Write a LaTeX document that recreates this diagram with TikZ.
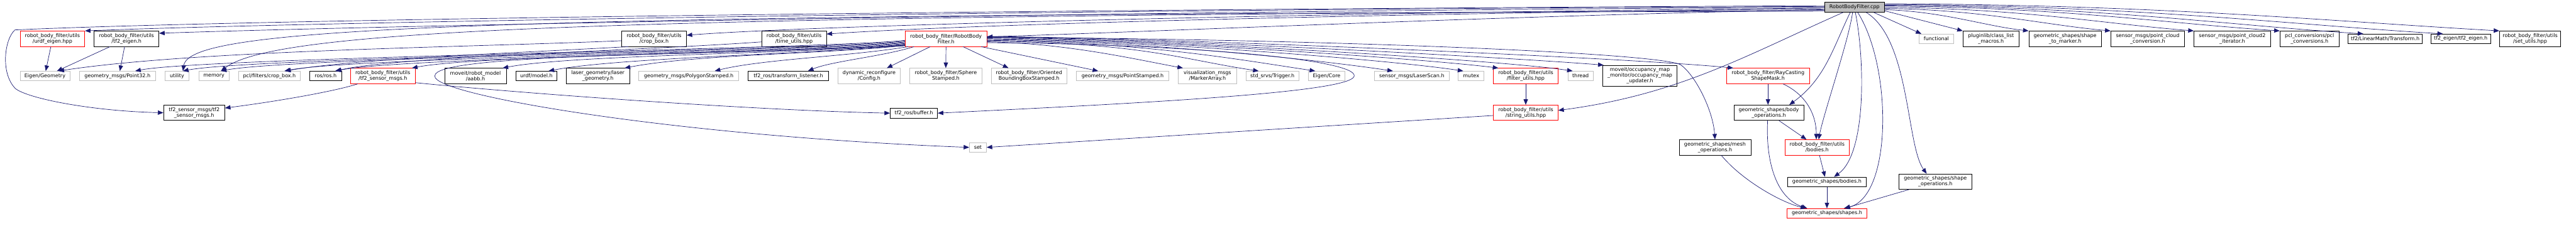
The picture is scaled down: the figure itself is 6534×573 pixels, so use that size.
\documentclass[tikz,border=0pt]{standalone}
\usepackage{fontspec}
\setmainfont{DejaVu Sans}
\usetikzlibrary{arrows.meta,calc}
\definecolor{DepBlue}{HTML}{191970}
\definecolor{Grey75}{HTML}{BFBFBF}

\begin{document}
\begin{tikzpicture}[x=1pt,y=-1pt,
  incbox/.style={line width=1.2pt,inner sep=0pt,align=center,font=\fontsize{12.8}{14.3}\selectfont},
  docbox/.style={incbox,draw=black},
  extbox/.style={incbox,draw=Grey75},
  redbox/.style={incbox,draw=red},
  mainfile/.style={incbox,draw=black,fill=Grey75},
  oneline/.style={minimum height=24pt},
  twoline/.style={minimum height=39pt},
  dep/.style={DepBlue,line width=1.1pt,-{Triangle[length=14pt,width=11pt]}}]
\useasboundingbox (0,0) rectangle (6534,573);

% the file itself
\node[mainfile,minimum width=152pt,minimum height=25pt] (cpp) at (4704,18.5) {RobotBodyFilter.cpp};

% first rank
\node[redbox,twoline,minimum width=164pt] (ue) at (133,98.5) {robot\_body\_filter/utils\\/urdf\_eigen.hpp};
\node[docbox,twoline,minimum width=164pt] (te) at (321,98.5) {robot\_body\_filter/utils\\/tf2\_eigen.h};
\node[docbox,twoline,minimum width=164pt] (cb) at (1659,98.5) {robot\_body\_filter/utils\\/crop\_box.h};
\node[docbox,twoline,minimum width=164pt] (tu) at (2014,98.5) {robot\_body\_filter/utils\\/time\_utils.hpp};
\node[redbox,twoline,minimum width=207pt] (rbf) at (2399.5,98.5) {robot\_body\_filter/RobotBody\\Filter.h};
\node[extbox,oneline,minimum width=87pt] (fn) at (4911.5,98.5) {functional};
\node[docbox,twoline,minimum width=142pt] (pl) at (5050,98.5) {pluginlib/class\_list\\\_macros.h};
\node[docbox,twoline,minimum width=184pt] (stm) at (5238,98.5) {geometric\_shapes/shape\\\_to\_marker.h};
\node[docbox,twoline,minimum width=187pt] (pcc) at (5447.5,98.5) {sensor\_msgs/point\_cloud\\\_conversion.h};
\node[docbox,twoline,minimum width=194pt] (pci) at (5662,98.5) {sensor\_msgs/point\_cloud2\\\_iterator.h};
\node[docbox,twoline,minimum width=150pt] (pclc) at (5858,98.5) {pcl\_conversions/pcl\\\_conversions.h};
\node[docbox,oneline,minimum width=188pt] (lmt) at (6050,98.5) {tf2/LinearMath/Transform.h};
\node[docbox,oneline,minimum width=151pt] (tfe) at (6241.5,98.5) {tf2\_eigen/tf2\_eigen.h};
\node[docbox,twoline,minimum width=155pt] (setu) at (6417.5,98.5) {robot\_body\_filter/utils\\/set\_utils.hpp};

% second rank
\node[extbox,oneline,minimum width=126pt] (eg) at (114,193) {Eigen/Geometry};
\node[extbox,oneline,minimum width=192pt] (p32) at (298,193) {geometry\_msgs/Point32.h};
\node[extbox,oneline,minimum width=60pt] (util) at (449,193) {utility};
\node[extbox,oneline,minimum width=77pt] (mem) at (542.5,193) {memory};
\node[extbox,oneline,minimum width=157pt] (pclcb) at (683.5,193) {pcl/filters/crop\_box.h};
\node[docbox,oneline,minimum width=80pt] (ros) at (826,193) {ros/ros.h};
\node[redbox,twoline,minimum width=164pt] (tsm) at (971,193) {robot\_body\_filter/utils\\/tf2\_sensor\_msgs.h};
\node[docbox,twoline,minimum width=156pt] (aabb) at (1206,193) {moveit/robot\_model\\/aabb.h};
\node[docbox,oneline,minimum width=105pt] (urdf) at (1360.5,193) {urdf/model.h};
\node[docbox,twoline,minimum width=161pt] (laser) at (1516.5,193) {laser\_geometry/laser\\\_geometry.h};
\node[extbox,oneline,minimum width=254pt] (poly) at (1747,193) {geometry\_msgs/PolygonStamped.h};
\node[docbox,oneline,minimum width=203pt] (tfl) at (1999.5,193) {tf2\_ros/transform\_listener.h};
\node[extbox,twoline,minimum width=159pt] (dyn) at (2204.5,193) {dynamic\_reconfigure\\/Config.h};
\node[extbox,twoline,minimum width=182pt] (sph) at (2399,193) {robot\_body\_filter/Sphere\\Stamped.h};
\node[extbox,twoline,minimum width=192pt] (obb) at (2610,193) {robot\_body\_filter/Oriented\\BoundingBoxStamped.h};
\node[extbox,oneline,minimum width=235pt] (pst) at (2847.5,193) {geometry\_msgs/PointStamped.h};
\node[extbox,twoline,minimum width=147pt] (mark) at (3062.5,193) {visualization\_msgs\\/MarkerArray.h};
\node[extbox,oneline,minimum width=135pt] (trig) at (3227.5,193) {std\_srvs/Trigger.h};
\node[extbox,oneline,minimum width=92pt] (ecore) at (3365,193) {Eigen/Core};
\node[extbox,oneline,minimum width=190pt] (scan) at (3581,193) {sensor\_msgs/LaserScan.h};
\node[extbox,oneline,minimum width=65pt] (mtx) at (3731.5,193) {mutex};
\node[redbox,twoline,minimum width=164pt] (fu) at (3870,193) {robot\_body\_filter/utils\\/filter\_utils.hpp};
\node[extbox,oneline,minimum width=64pt] (thr) at (4009,193) {thread};
\node[docbox,minimum height=53pt,minimum width=189pt] (occ) at (4159.5,192.5) {moveit/occupancy\_map\\\_monitor/occupancy\_map\\\_updater.h};
\node[redbox,twoline,minimum width=211pt] (ray) at (4484.5,193) {robot\_body\_filter/RayCasting\\ShapeMask.h};

% lower ranks
\node[docbox,twoline,minimum width=155pt] (t2sm) at (492.5,286.5) {tf2\_sensor\_msgs/tf2\\\_sensor\_msgs.h};
\node[docbox,minimum height=25pt,minimum width=120pt] (buf) at (2318,287.5) {tf2\_ros/buffer.h};
\node[redbox,twoline,minimum width=164pt] (stru) at (3870,286.5) {robot\_body\_filter/utils\\/string\_utils.hpp};
\node[docbox,twoline,minimum width=177pt] (bops) at (4486.5,286.5) {geometric\_shapes/body\\\_operations.h};
\node[extbox,minimum height=25pt,minimum width=43pt] (set) at (2480.5,374.5) {set};
\node[docbox,twoline,minimum width=182pt] (mops) at (4350,374.5) {geometric\_shapes/mesh\\\_operations.h};
\node[redbox,twoline,minimum width=164pt] (ubod) at (4609,374.5) {robot\_body\_filter/utils\\/bodies.h};
\node[docbox,oneline,minimum width=200pt] (gbod) at (4634,462) {geometric\_shapes/bodies.h};
\node[docbox,twoline,minimum width=184pt] (sops) at (4909,461.5) {geometric\_shapes/shape\\\_operations.h};
\node[redbox,oneline,minimum width=202pt] (shp) at (4634,542) {geometric\_shapes/shapes.h};

% cpp to the left
\draw[dep] ($(cpp.west)+(0,-4)$) .. controls (2500,25) and (600,50) .. (38,76) .. controls (12,98) and (0,185) .. (39,225) .. controls (70,250) and (230,282) .. (t2sm.west);
\draw[dep] ($(cpp.west)+(0,-2)$) .. controls (3000,22) and (900,52) .. (ue.north east);
\draw[dep] (cpp.west) .. controls (3000,26) and (1000,64) .. ($(te.east)+(0,-14)$);
\draw[dep] ($(cpp.west)+(0,2)$) .. controls (3500,30) and (2100,62) .. ($(cb.east)+(0,-9)$);
\draw[dep] ($(cpp.west)+(0,4)$) .. controls (3500,34) and (2450,62) .. ($(tu.east)+(0,-12)$);
\draw[dep] ($(cpp.west)+(0,6)$) .. controls (3800,40) and (2900,82) .. ($(rbf.east)+(0,-5)$);
\draw[dep] ($(cpp.west)+(0,8)$) .. controls (1500,40) and (700,75) .. ($(mem.north)+(18,0)$);
\draw[dep] ($(cpp.west)+(0,10)$) .. controls (1100,36) and (480,72) .. ($(util.north)+(15,0)$);

% cpp to the right
\draw[dep] ($(cpp.south east)+(-28,0)$) -- ($(fn.north west)+(6,0)$);
\draw[dep] ($(cpp.east)+(0,9)$) -- (pl.north west);
\draw[dep] ($(cpp.east)+(0,6)$) .. controls +(150,5) and +(-110,-12) .. (stm.north west);
\draw[dep] ($(cpp.east)+(0,3)$) .. controls +(250,3) and +(-170,-15) .. (pcc.north west);
\draw[dep] (cpp.east) .. controls +(350,3) and +(-230,-18) .. (pci.north west);
\draw[dep] ($(cpp.east)+(0,-3)$) .. controls +(450,3) and +(-300,-20) .. (pclc.north west);
\draw[dep] ($(cpp.east)+(0,-5)$) .. controls +(550,3) and +(-350,-22) .. ($(lmt.north west)+(39,0)$);
\draw[dep] ($(cpp.east)+(0,-7)$) .. controls +(650,3) and +(-400,-24) .. ($(tfe.north west)+(31,0)$);
\draw[dep] ($(cpp.north east)+(0,4)$) .. controls +(700,3) and +(-450,-26) .. (setu.north west);

% cpp downwards
\draw[dep] ($(cpp.south)+(-29,0)$) .. controls (4430,140) and (4260,240) .. ($(stru.east)+(0,-6)$);
\draw[dep] ($(cpp.south)+(-11,0)$) .. controls (4650,120) and (4630,200) .. ($(bops.north)+(52,0)$);
\draw[dep] ($(cpp.south)+(-5,0)$) .. controls (4690,100) and (4625,290) .. ($(ubod.north)+(4,0)$);
\draw[dep] ($(cpp.south)+(2,0)$) .. controls (4730,150) and (4735,390) .. ($(gbod.north)+(18,0)$);
\draw[dep] ($(cpp.south)+(8,0)$) .. controls (4800,170) and (4800,500) .. ($(shp.north)+(43,0)$);
\draw[dep] ($(cpp.south east)+(-47,0)$) .. controls (4845,100) and (4835,370) .. ($(sops.north)+(-22,0)$);

% RobotBodyFilter.h to the left
\foreach \tgt/\dx/\dy in {p32/45/4,util/15/6,mem/18/8,pclcb/38/10,ros/24/12,tsm/74/14,aabb/69/15,urdf/31/16,laser/68/17}
  \draw[dep] ($(rbf.west)+(0,\dy)$) .. controls +(-200,22) and +(180,-35) .. ($(\tgt.north)+(\dx,0)$);
\draw[dep] ($(rbf.south west)+(8,0)$) .. controls +(-150,25) and +(120,-30) .. ($(poly.north)+(66,0)$);
\draw[dep] ($(rbf.south west)+(23,0)$) .. controls +(-80,25) and +(60,-25) .. ($(tfl.north)+(50,0)$);
\draw[dep] ($(rbf.south)+(-40,0)$) -- ($(dyn.north)+(45,0)$);
\draw[dep] (rbf.south) -- (sph.north);
\draw[dep] ($(rbf.south east)+(-61,0)$) -- ($(obb.north)+(-52,0)$);
\draw[dep] ($(rbf.south east)+(-15,0)$) -- ($(pst.north)+(-62,0)$);
\draw[dep] ($(rbf.west)+(0,18)$) .. controls (1700,140) and (1100,140) .. (1103,193) .. controls (1095,240) and (1700,345) .. (set.west);

% RobotBodyFilter.h to the right
\draw[dep] ($(rbf.east)+(0,8)$) .. controls +(200,3) and +(-120,-22) .. ($(mark.north)+(-62,0)$);
\foreach \tgt/\dx/\dy in {trig/-35/6,ecore/-29/4,scan/-48/2,mtx/-20/0,thr/-20/-4}
  \draw[dep] ($(rbf.east)+(0,\dy)$) .. controls +(400,5) and +(-200,-30) .. ($(\tgt.north)+(\dx,0)$);
\draw[dep] ($(rbf.east)+(0,-2)$) .. controls +(400,5) and +(-200,-25) .. ($(fu.north west)+(13,0)$);
\draw[dep] ($(rbf.east)+(0,-5)$) .. controls +(450,5) and +(-250,-20) .. ($(occ.north west)+(3,0)$);
\draw[dep] ($(rbf.east)+(0,-6)$) .. controls +(500,5) and +(-250,-25) .. ($(ray.north west)+(18,0)$);
\draw[dep] ($(rbf.east)+(0,-4)$) .. controls (3400,100) and (4200,135) .. (4262,164) .. controls (4300,190) and (4345,280) .. (mops.north);
\draw[dep] ($(rbf.east)+(0,10)$) .. controls (3000,112) and (3440,150) .. (3435,193) .. controls (3430,235) and (2900,262) .. (buf.east);

% other headers
\draw[dep] ($(ue.south)+(-4,0)$) -- ($(eg.north)+(2,0)$);
\draw[dep] ($(te.south)+(-42,0)$) -- ($(eg.north east)+(-33,0)$);
\draw[dep] ($(te.south)+(-5,0)$) -- ($(p32.north)+(6,0)$);
\draw[dep] ($(cb.west)+(0,5)$) .. controls (1200,120) and (500,127) .. ($(eg.north east)+(-29,0)$);
\draw[dep] ($(cb.south west)+(18,0)$) .. controls (1300,135) and (900,150) .. ($(pclcb.north)+(40,0)$);
\draw[dep] ($(tu.west)+(0,8)$) .. controls (1600,130) and (1000,145) .. ($(ros.north)+(26,0)$);
\draw[dep] ($(tsm.south west)+(19,0)$) .. controls (850,232) and (700,258) .. ($(t2sm.east)+(0,-12)$);
\draw[dep] ($(tsm.south east)+(0,-3)$) .. controls (1300,235) and (1900,280) .. (buf.west);
\draw[dep] (fu) -- (stru);
\draw[dep] ($(stru.west)+(0,7)$) -- (set.east);
\draw[dep] (ray.south) -- ($(bops.north)+(-2,0)$);
\draw[dep] ($(ray.south)+(38,0)$) .. controls (4580,240) and (4607,290) .. ($(ubod.north)+(-2,0)$);
\draw[dep] ($(bops.south)+(26,0)$) -- ($(ubod.north)+(-27,0)$);
\draw[dep] ($(bops.south)+(-3,0)$) .. controls (4478,420) and (4510,505) .. ($(shp.north)+(-50,0)$);
\draw[dep] ($(ubod.south)+(6,0)$) -- ($(gbod.north)+(-5,0)$);
\draw[dep] (gbod) -- (shp);
\draw[dep] ($(mops.south)+(16,0)$) .. controls (4420,460) and (4520,515) .. ($(shp.north)+(-53,0)$);
\draw[dep] ($(sops.south west)+(26,0)$) -- ($(shp.north)+(45,0)$);
\end{tikzpicture}
\end{document}
